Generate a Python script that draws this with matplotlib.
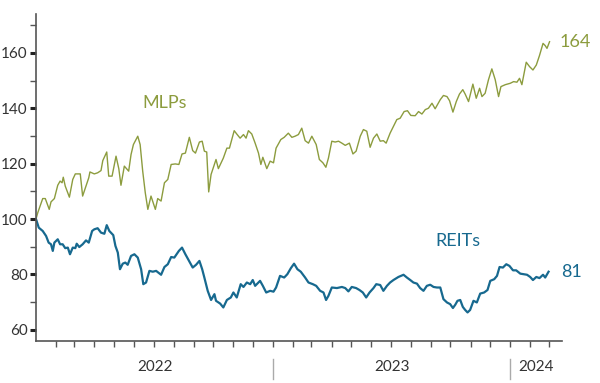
import numpy as np
import pandas as pd
import matplotlib
matplotlib.use('Agg')
import matplotlib.pyplot as plt
import matplotlib.dates as mdates

# Months elapsed since 1 Jan 2022 and index level (start = 100)
mlp_months = [0, 0.09, 0.34, 0.47, 0.67, 0.76, 0.93, 1.10, 1.22, 1.32, 1.38, 1.48, 1.69, 1.86, 1.99,
              2.24, 2.36, 2.53, 2.67, 2.73, 2.95, 3.12, 3.29, 3.38, 3.58, 3.68, 3.85, 4.05, 4.19, 4.30,
              4.47, 4.69, 4.81, 4.93, 5.15, 5.27, 5.40, 5.53, 5.66, 5.82, 6.04, 6.16, 6.33, 6.50, 6.67,
              6.84, 7.05, 7.23, 7.39, 7.56, 7.76, 7.93, 8.07, 8.27, 8.41, 8.52, 8.64, 8.74, 8.86, 9.11,
              9.23, 9.48, 9.66, 9.79, 10.03, 10.16, 10.33, 10.50, 10.63, 10.75, 10.92, 11.09, 11.26,
              11.38, 11.48, 11.68, 11.85, 12.02, 12.15, 12.39, 12.56, 12.77, 12.95, 13.11, 13.28, 13.45,
              13.62, 13.79, 13.96, 14.18, 14.34, 14.52, 14.67, 14.80, 14.97, 15.14, 15.31, 15.48, 15.65,
              15.86, 16.04, 16.20, 16.41, 16.57, 16.74, 16.91, 17.08, 17.25, 17.42, 17.58, 17.72, 17.92,
              18.26, 18.43, 18.63, 18.80, 18.97, 19.19, 19.36, 19.53, 19.70, 19.86, 20.04, 20.20, 20.46,
              20.62, 20.80, 20.93, 21.10, 21.27, 21.43, 21.60, 21.72, 21.89, 22.11, 22.28, 22.45, 22.57,
              22.73, 22.90, 23.07, 23.24, 23.41, 23.53, 23.75, 24.00, 24.17, 24.34, 24.47, 24.59, 24.81,
              24.98, 25.15, 25.32, 25.48, 25.66, 25.77, 25.86, 25.99]
mlp_values = [100.0, 102.3, 107.4, 107.4, 103.5, 106.2, 107.4, 112.2, 113.7, 113.1, 115.1, 111.9, 107.9,
              114.3, 116.3, 116.3, 108.3, 111.9, 114.9, 117.0, 116.3, 116.7, 117.5, 121.1, 124.2, 115.5,
              115.5, 122.7, 118.2, 112.2, 119.1, 117.3, 123.3, 126.9, 129.9, 126.9, 117.3, 109.5, 103.5,
              108.3, 103.5, 107.4, 106.5, 113.1, 114.3, 119.7, 119.9, 119.7, 123.5, 123.8, 129.5, 124.7,
              123.8, 127.8, 128.1, 124.5, 124.2, 109.8, 116.1, 121.5, 118.2, 122.0, 125.6, 125.6, 131.9,
              130.7, 129.2, 130.5, 129.2, 131.9, 130.7, 127.4, 123.8, 119.7, 122.3, 118.2, 120.9, 120.3,
              125.6, 128.7, 129.5, 131.0, 129.5, 129.9, 130.5, 132.8, 128.3, 127.4, 129.9, 126.9, 121.5,
              120.3, 118.7, 122.0, 128.1, 127.8, 128.1, 127.4, 126.6, 127.4, 123.5, 124.5, 129.9, 132.3,
              131.7, 125.9, 129.2, 130.7, 128.1, 128.3, 127.4, 131.0, 135.9, 136.4, 138.8, 139.1, 137.4,
              137.3, 138.8, 137.9, 139.5, 140.0, 141.8, 139.8, 143.1, 144.6, 144.2, 142.7, 138.6, 142.4,
              145.1, 146.7, 145.1, 142.4, 148.7, 143.6, 147.2, 144.2, 145.4, 150.3, 154.2, 150.3, 144.2,
              147.8, 148.5, 149.0, 149.6, 149.4, 150.8, 148.5, 156.6, 155.0, 153.8, 155.6, 159.0, 163.4,
              162.6, 161.6, 164.0]

reit_months = [0, 0.14, 0.34, 0.51, 0.64, 0.76, 0.85, 0.93, 1.10, 1.22, 1.35, 1.48, 1.61, 1.72, 1.86,
               1.99, 2.06, 2.19, 2.36, 2.53, 2.67, 2.84, 2.95, 3.12, 3.29, 3.46, 3.58, 3.71, 3.91, 4.02,
               4.14, 4.25, 4.39, 4.52, 4.64, 4.81, 4.98, 5.15, 5.32, 5.43, 5.57, 5.74, 5.91, 6.08, 6.33,
               6.50, 6.67, 6.84, 7.00, 7.23, 7.39, 7.56, 7.73, 7.93, 8.10, 8.27, 8.41, 8.52, 8.69, 8.86,
               9.03, 9.11, 9.32, 9.48, 9.66, 9.86, 9.99, 10.16, 10.36, 10.50, 10.67, 10.84, 10.97, 11.09,
               11.34, 11.48, 11.65, 11.85, 12.02, 12.15, 12.35, 12.56, 12.72, 12.90, 13.06, 13.23, 13.40,
               13.62, 13.79, 14.01, 14.18, 14.38, 14.55, 14.68, 14.80, 14.97, 15.23, 15.48, 15.65, 15.81,
               15.98, 16.20, 16.37, 16.54, 16.71, 16.88, 17.08, 17.22, 17.42, 17.58, 17.76, 17.92, 18.09,
               18.34, 18.60, 18.77, 18.94, 19.10, 19.28, 19.44, 19.61, 19.78, 19.95, 20.12, 20.29, 20.46,
               20.62, 20.80, 20.96, 21.10, 21.22, 21.33, 21.47, 21.60, 21.72, 21.84, 21.97, 22.14, 22.31,
               22.48, 22.68, 22.85, 22.99, 23.19, 23.33, 23.46, 23.63, 23.80, 23.96, 24.14, 24.30, 24.51,
               24.67, 24.85, 25.01, 25.15, 25.32, 25.48, 25.66, 25.77, 25.94]
reit_values = [100.0, 96.9, 95.7, 93.9, 91.5, 90.9, 88.5, 91.5, 92.7, 90.9, 90.9, 89.5, 89.7, 87.3, 89.7,
               89.5, 91.1, 89.9, 90.9, 92.3, 91.5, 95.7, 96.3, 96.7, 95.1, 94.7, 97.8, 95.7, 94.2, 90.3,
               87.9, 81.9, 83.9, 84.3, 83.5, 86.7, 87.3, 86.1, 81.9, 76.5, 77.1, 81.3, 81.0, 81.3, 79.9,
               82.7, 83.7, 86.3, 86.1, 88.5, 89.7, 87.3, 85.1, 82.5, 83.5, 84.9, 81.9, 78.9, 74.1, 70.8,
               72.9, 70.5, 69.5, 68.1, 70.8, 71.7, 73.5, 71.7, 76.5, 75.5, 77.1, 76.5, 78.0, 75.9, 77.7,
               75.9, 73.5, 74.1, 73.8, 75.3, 79.5, 78.9, 80.1, 82.3, 83.9, 81.9, 81.0, 78.9, 77.1, 76.5,
               75.9, 74.1, 73.5, 70.8, 72.3, 75.3, 75.1, 75.5, 75.1, 73.9, 75.5, 75.1, 74.4, 73.5, 71.7,
               73.5, 75.1, 76.5, 76.2, 74.1, 75.9, 77.1, 78.0, 79.1, 79.9, 78.9, 78.0, 77.1, 76.7, 75.1,
               74.1, 75.9, 76.3, 75.5, 75.3, 75.3, 71.1, 69.9, 69.3, 67.9, 69.1, 70.5, 70.8, 68.3, 67.2,
               66.3, 67.2, 70.5, 69.9, 73.1, 73.5, 74.4, 77.7, 78.3, 79.5, 82.7, 82.5, 83.7, 83.1, 81.5,
               81.5, 80.3, 80.1, 79.9, 79.1, 78.0, 79.1, 78.7, 79.9, 78.9, 81.0]

years = ['2022', '2023', '2024']

start = pd.Timestamp('2022-01-01')
mlp_dates = start + pd.to_timedelta(np.array(mlp_months) * 365 / 12, unit='D')
reit_dates = start + pd.to_timedelta(np.array(reit_months) * 365 / 12, unit='D')

plt.rcParams['font.family'] = ['Lato', 'DejaVu Sans']

mlp_color = '#8c9c3e'
reit_color = '#17698f'
axis_color = '#555555'
text_color = '#333333'

fig = plt.figure(figsize=(6, 3.83), dpi=100)
ax = fig.add_axes([0.06, 0.1097, 0.877, 0.8537])

ax.plot(mlp_dates, mlp_values, color=mlp_color, lw=1.0)
ax.plot(reit_dates, reit_values, color=reit_color, lw=1.6)

x0 = pd.Timestamp('2022-01-01')
x1 = pd.Timestamp('2024-03-21')
ax.set_xlim(x0, x1)
ax.set_ylim(56, 174)

for s in ['top', 'right']:
    ax.spines[s].set_visible(False)
for s in ['left', 'bottom']:
    ax.spines[s].set_color(axis_color)
    ax.spines[s].set_linewidth(1.2)

# y ticks
ax.set_yticks(range(60, 161, 20))
ax.set_yticks(range(70, 171, 20), minor=True)
ax.tick_params(axis='y', which='major', length=4, width=2.2, color='#222222',
               labelsize=11, labelcolor=text_color, pad=2)
ax.tick_params(axis='y', which='minor', length=4, width=1, color=axis_color)

# x ticks: month boundaries, year labels set manually
month_ticks = pd.date_range('2022-02-01', '2024-03-01', freq='MS')
ax.set_xticks(month_ticks)
ax.set_xticklabels([])
ax.tick_params(axis='x', which='major', length=4, width=1, color=axis_color)

year_bounds = [x0, pd.Timestamp('2023-01-01'), pd.Timestamp('2024-01-01'), x1]
trans = ax.get_xaxis_transform()
for i, yr in enumerate(years):
    mid = year_bounds[i] + (year_bounds[i + 1] - year_bounds[i]) / 2
    ax.text(mid, -0.08, yr, transform=trans, ha='center', va='center',
            fontsize=11, color=text_color)
for b in year_bounds[1:3]:
    ax.plot([b, b], [-0.055, -0.115], transform=trans, color='#aaaaaa', lw=1, clip_on=False)

# series labels
ax.text(pd.Timestamp('2022-07-18'), 142, 'MLPs', fontsize=13, color=mlp_color, ha='center', va='center')
ax.text(pd.Timestamp('2023-10-12'), 92, 'REITs', fontsize=13, color=reit_color, ha='center', va='center')
ax.text(x1 - pd.Timedelta(days=4), mlp_values[-1], f'{mlp_values[-1]:.0f}', fontsize=13,
        color=mlp_color, ha='left', va='center', clip_on=False)
ax.text(x1 - pd.Timedelta(days=2), reit_values[-1], f'{reit_values[-1]:.0f}', fontsize=13,
        color=reit_color, ha='left', va='center', clip_on=False)

fig.savefig('out.png', dpi=100)
